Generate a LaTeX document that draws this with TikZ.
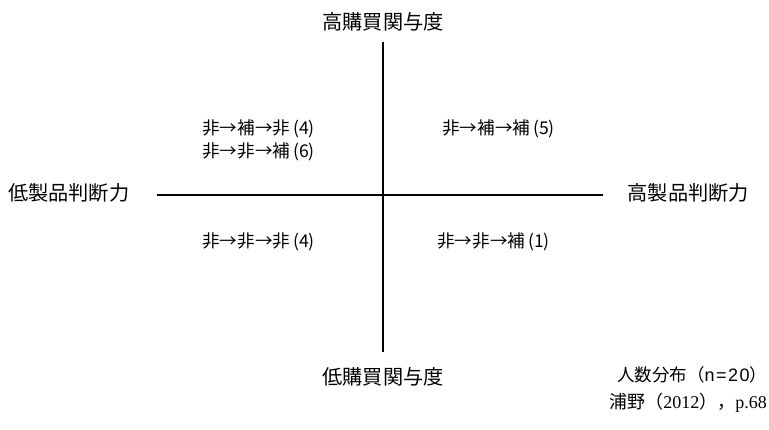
\documentclass[tikz,border=0pt]{standalone}
\usepackage{fontspec}
\setmainfont{Liberation Serif}
\setsansfont{Liberation Sans}
\newfontfamily\cjk{Noto Sans CJK JP}
\begin{document}
\begin{tikzpicture}[x=1pt,y=-1pt,
  axislabel/.style={font=\cjk\fontsize{20.2}{23}\selectfont, inner sep=0pt},
  quadlabel/.style={font=\cjk\fontsize{17.6}{20}\selectfont, inner sep=0pt, align=center},
  axisline/.style={line width=1.2pt, black}]
\useasboundingbox (0,0) rectangle (769,429);
\node[axislabel] (top) at (383,22) {高購買関与度};
\node[axislabel] (bottom) at (383,377) {低購買関与度};
\node[axislabel, anchor=west] (left) at (8,193) {低製品判断力};
\node[axislabel, anchor=east] (right) at (749,193) {高製品判断力};
\coordinate (hl) at (157,195);
\coordinate (hr) at (603,195);
\coordinate (vt) at (383,42);
\coordinate (vb) at (383,352);
\draw[axisline] (hl) -- (hr);
\draw[axisline] (vt) -- (vb);
\node[quadlabel, anchor=west] (q1a) at (202,129) {非→補→非\,(4)};
\node[quadlabel, anchor=west] (q1b) at (202,152) {非→非→補\,(6)};
\node[quadlabel, anchor=west] (q2) at (442,129) {非→補→補\,(5)};
\node[quadlabel, anchor=west] (q3) at (202,242) {非→非→非\,(4)};
\node[quadlabel, anchor=west] (q4) at (437,242) {非→非→補\,(1)};
\node[inner sep=0pt, anchor=west, font=\cjk\fontsize{17.5}{20}\selectfont] (n) at (617,375) {人数分布（{\sffamily\fontsize{18}{20}\selectfont\addfontfeature{LetterSpace=8}n=20}）};
\node[anchor=east, inner sep=0pt, font=\fontsize{18}{21}\selectfont] (cite) at (767,403) {{\cjk 浦野（}2012{\cjk ），}p.68};
\end{tikzpicture}
\end{document}
